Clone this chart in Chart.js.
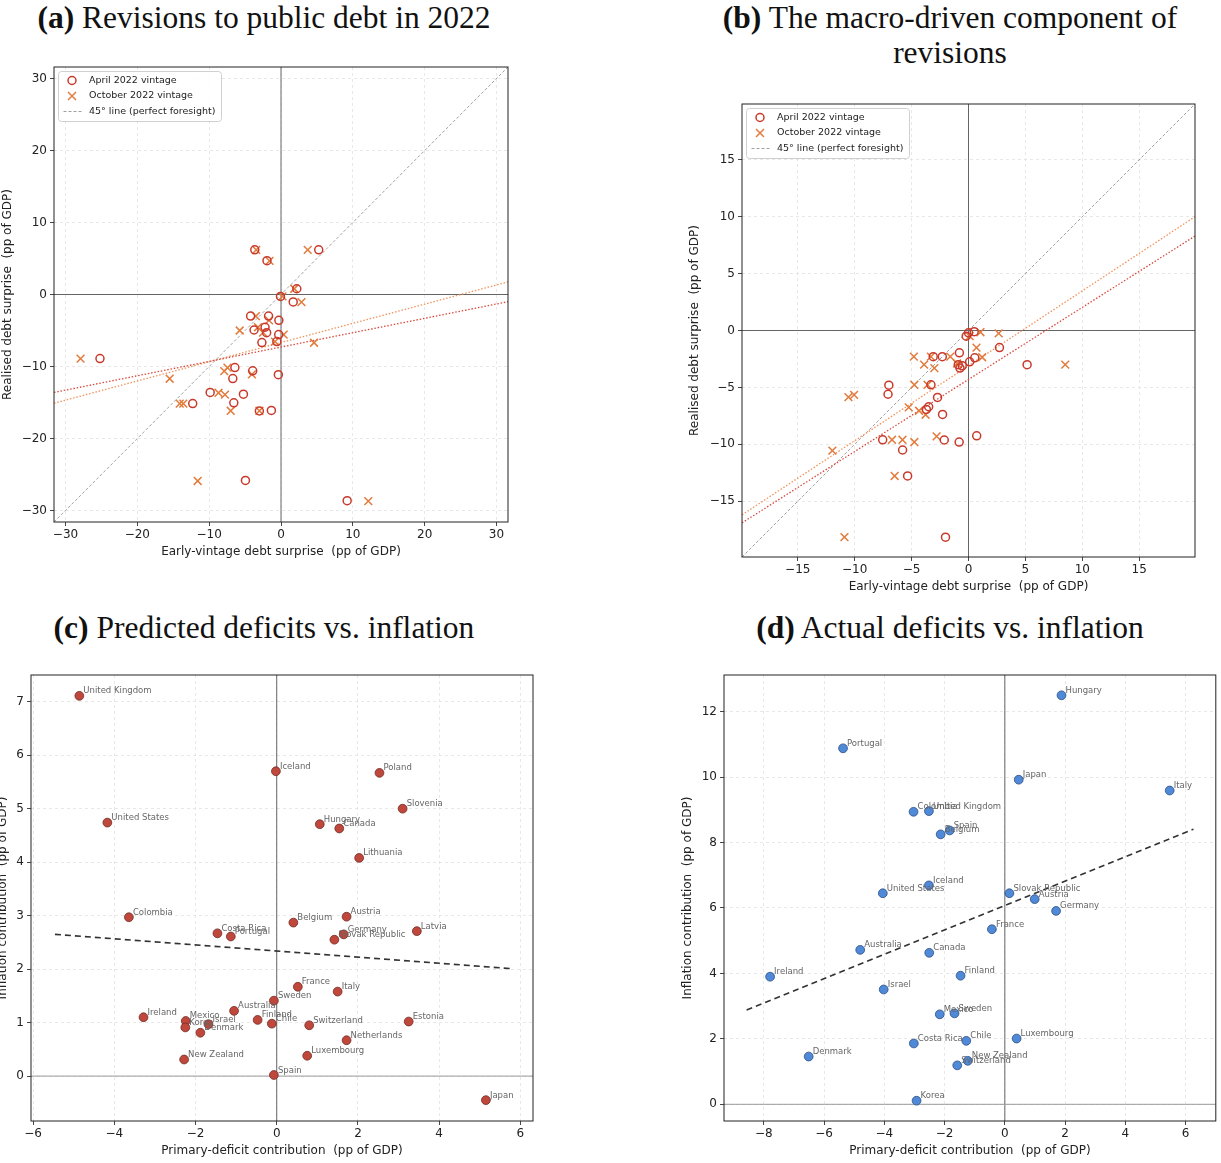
<!DOCTYPE html>
<html>
<head>
<meta charset="utf-8">
<script src="https://cdn.jsdelivr.net/npm/chart.js@4.4.1/dist/chart.umd.min.js"></script>
<style>
  body { margin: 0; width: 1221px; height: 1163px; background: #fff; position: relative; overflow: hidden; }
  .ttl { position: absolute; font-family: "Liberation Serif", serif; font-size: 31.5px; color: #111;
         text-align: center; line-height: 35px; white-space: nowrap; }
  canvas { position: absolute; }
</style>
</head>
<body>
<div class="ttl" style="left:0;width:528px;top:0"><b>(a)</b> Revisions to public debt in 2022</div>
<div class="ttl" style="left:690px;width:520px;top:0"><b>(b)</b> The macro-driven component of<br>revisions</div>
<div class="ttl" style="left:0;width:528px;top:610px"><b>(c)</b> Predicted deficits vs. inflation</div>
<div class="ttl" style="left:690px;width:520px;top:610px"><b>(d)</b> Actual deficits vs. inflation</div>

<canvas id="pa" width="515" height="499" style="left:0;top:60px"></canvas>
<canvas id="pb" width="515" height="497" style="left:687px;top:97px"></canvas>
<canvas id="pc" width="544" height="489" style="left:-5px;top:669px"></canvas>
<canvas id="pd" width="541" height="489" style="left:680px;top:669px"></canvas>

<script>
// ---- (a) debt revisions, pp of GDP ----
const aLim = 31.6;
const aTicks = [-30, -20, -10, 0, 10, 20, 30];
const aAprilX = [-25.2, -3.65, -1.95, 5.25, 2.2, -0.07, 1.7, -4.23, -1.73, -0.3, -3.75, -2.22, -2.0, -0.32,
                 -2.66, -0.58, -6.42, -3.94, -0.37, -6.71, -9.86, -5.23, -6.57, -12.29, -3.01, -1.34, -4.95, 9.21];
const aAprilY = [-8.9, 6.2, 4.7, 6.2, 0.8, -0.27, -1.03, -3.0, -3.0, -3.58, -4.93, -4.55, -5.3, -5.56,
                 -6.68, -6.54, -10.15, -10.6, -11.13, -11.68, -13.6, -13.85, -15.05, -15.15, -16.18, -16.1, -25.83, -28.64];
const aOctX = [-27.9, -3.45, -1.6, 3.72, 1.85, 0.2, 2.85, -3.5, -1.67, -5.75, -3.2, -2.5, 0.37, -0.83,
               4.6, -15.5, -7.9, -7.45, -4.05, -8.7, -7.8, -14.1, -13.6, -7.0, -3.0, -11.6, 12.15];
const aOctY = [-8.9, 6.2, 4.68, 6.2, 0.8, -0.27, -1.07, -3.0, -3.6, -5.0, -4.55, -5.3, -5.58, -6.55,
               -6.7, -11.7, -10.65, -10.15, -11.1, -13.65, -13.9, -15.15, -15.15, -16.15, -16.15, -25.9, -28.7];
const aFitX = [-31.6, 31.6];
const aFitAprilY = [-13.6, -1.0];
const aFitOctY = [-15.1, 1.75];

// ---- (b) macro-driven component ----
const bLim = 19.9;
const bTicks = [-15, -10, -5, 0, 5, 10, 15];
const bAprilX = [-0.2, 0.0, 0.5, 2.72, -0.8, -3.1, -2.3, 0.55, 0.1, -0.9, -0.75, -0.55, -7.0, -7.07,
                 -3.3, -2.72, -3.5, -3.7, -2.28, -7.54, -5.79, -2.13, -0.82, 0.72, -5.35, -2.02, 5.15];
const bAprilY = [-0.5, -0.2, -0.1, -1.5, -1.96, -2.3, -2.3, -2.4, -2.75, -3.0, -3.3, -3.1, -4.8, -5.6,
                 -4.77, -5.88, -6.7, -6.93, -7.37, -9.6, -10.5, -9.62, -9.8, -9.25, -12.78, -18.16, -3.0];
const bOctX = [1.05, 2.65, 0.1, 0.7, 1.2, -4.8, -3.3, -1.6, -3.9, -3.0, -1.0, -10.55, -10.05,
               -4.76, -3.6, -5.25, -4.35, -3.77, -6.72, -5.8, -4.76, -2.8, -11.96, -6.49, -10.9, 8.5];
const bOctY = [-0.15, -0.25, -0.5, -1.5, -2.35, -2.3, -2.3, -2.3, -3.0, -3.3, -2.9, -5.85, -5.65,
               -4.77, -4.77, -6.75, -7.05, -7.4, -9.6, -9.6, -9.8, -9.3, -10.56, -12.78, -18.16, -3.0];
const bFitX = [-19.9, 19.9];
const bFitAprilY = [-16.9, 8.3];
const bFitOctY = [-16.2, 10.0];

// ---- (c) predicted primary deficits vs inflation ----
const cCountries = ['United Kingdom', 'Iceland', 'United States', 'Colombia', 'Costa Rica', 'Portugal', 'Belgium',
  'Ireland', 'Mexico', 'Korea', 'Israel', 'Denmark', 'Australia', 'Finland', 'Chile', 'Sweden', 'New Zealand',
  'Spain', 'Poland', 'Slovenia', 'Hungary', 'Canada', 'Lithuania', 'Austria', 'Germany', 'Slovak Republic',
  'Latvia', 'France', 'Italy', 'Switzerland', 'Estonia', 'Netherlands', 'Luxembourg', 'Japan'];
const cDeficit = [-4.86, -0.02, -4.17, -3.64, -1.46, -1.13, 0.41, -3.28, -2.24, -2.25, -1.68, -1.88, -1.05, -0.47,
  -0.12, -0.07, -2.28, -0.07, 2.53, 3.10, 1.06, 1.54, 2.03, 1.72, 1.65, 1.42, 3.45, 0.52, 1.50, 0.80, 3.25, 1.72,
  0.75, 5.15];
const cInflation = [7.11, 5.70, 4.74, 2.97, 2.67, 2.61, 2.87, 1.10, 1.03, 0.91, 0.97, 0.81, 1.22, 1.05, 0.98,
  1.41, 0.31, 0.02, 5.67, 5.00, 4.71, 4.63, 4.08, 2.98, 2.65, 2.55, 2.71, 1.67, 1.58, 0.95, 1.02, 0.67, 0.38,
  -0.45];
const cFitX = [-5.46, 5.74];
const cFitY = [2.65, 2.01];
const cXTicks = [-6, -4, -2, 0, 2, 4, 6];
const cYTicks = [0, 1, 2, 3, 4, 5, 6, 7];

// ---- (d) actual primary deficits vs inflation ----
const dCountries = ['Portugal', 'Colombia', 'United Kingdom', 'Belgium', 'Spain', 'Iceland', 'United States',
  'Australia', 'Canada', 'Ireland', 'Israel', 'Mexico', 'Sweden', 'Costa Rica', 'Denmark', 'Korea', 'Switzerland',
  'New Zealand', 'Chile', 'Luxembourg', 'Finland', 'France', 'Slovak Republic', 'Austria', 'Germany', 'Japan',
  'Italy', 'Hungary'];
const dDeficit = [-5.37, -3.03, -2.52, -2.13, -1.83, -2.52, -4.05, -4.80, -2.51, -7.79, -4.02, -2.16, -1.67,
  -3.02, -6.51, -2.93, -1.58, -1.23, -1.28, 0.39, -1.47, -0.43, 0.15, 0.99, 1.70, 0.46, 5.47, 1.88];
const dInflation = [10.88, 8.94, 8.96, 8.25, 8.37, 6.69, 6.45, 4.72, 4.63, 3.90, 3.51, 2.75, 2.78, 1.86, 1.46,
  0.11, 1.19, 1.33, 1.94, 2.01, 3.93, 5.35, 6.45, 6.27, 5.91, 9.92, 9.59, 12.50];
const dFitX = [-8.57, 6.26];
const dFitY = [2.88, 8.41];
const dXTicks = [-8, -6, -4, -2, 0, 2, 4, 6];
const dYTicks = [0, 2, 4, 6, 8, 10, 12];

const FONT = '"DejaVu Sans", sans-serif';
const RED = '#c8392b';
const ORANGE = '#e27b3c';
const pts = (xs, ys) => xs.map((x, i) => ({ x, y: ys[i] }));
const fmt = v => (v < 0 ? '\u2212' + Math.abs(v) : String(v));

function axis(min, max, ticks, title, fixed, horizontal) {
  return {
    type: 'linear', min, max,
    afterBuildTicks: s => { s.ticks = ticks.map(v => ({ value: v })); },
    // fixed axis thickness and no label overhang, so the plot box lands where the layout padding says
    afterFit: s => {
      if (horizontal) s.height = fixed; else s.width = fixed;
      s.paddingTop = s.paddingBottom = s.paddingLeft = s.paddingRight = 0;
    },
    ticks: { font: { family: FONT, size: 12 }, color: '#222', padding: horizontal ? 2 : 3,
             autoSkip: false, maxRotation: 0, callback: v => fmt(v) },
    grid: { color: '#e2e2e2', lineWidth: 0.8, tickLength: 4, tickColor: '#333', tickWidth: 0.9, tickBorderDash: [] },
    border: { display: false, dash: [3, 3] },
    title: { display: true, text: title, color: '#222', font: { family: FONT, size: 12 },
             padding: horizontal ? { top: 0, bottom: 0 } : { top: 1, bottom: 0 } }
  };
}

function line(xs, ys, color, width, dash, order) {
  return { type: 'scatter', data: pts(xs, ys), showLine: true, pointRadius: 0, fill: false,
           borderColor: color, borderWidth: width, borderDash: dash, order };
}

// black box round the plotting area
const frame = {
  id: 'frame',
  afterDatasetsDraw(chart) {
    const { ctx, chartArea: a } = chart;
    ctx.save();
    ctx.strokeStyle = '#222';
    ctx.lineWidth = 1;
    ctx.strokeRect(a.left, a.top, a.right - a.left, a.bottom - a.top);
    ctx.restore();
  }
};

// legend box in the upper-left corner of the axes
const boxLegend = {
  id: 'boxLegend',
  afterDraw(chart, args, opts) {
    if (!opts.items) return;
    const { ctx, chartArea: a } = chart;
    const x0 = a.left + 4.5, y0 = a.top + 4.5, w = 163, h = 50;
    ctx.save();
    ctx.beginPath();
    ctx.roundRect(x0, y0, w, h, 3);
    ctx.fillStyle = 'rgba(255,255,255,0.85)';
    ctx.fill();
    ctx.strokeStyle = '#d0d0d0';
    ctx.lineWidth = 1;
    ctx.stroke();
    ctx.font = '9.5px ' + FONT;
    ctx.textBaseline = 'middle';
    opts.items.forEach((it, i) => {
      const y = y0 + 9 + i * 15.5, mx = x0 + 13.5;
      ctx.strokeStyle = it.color;
      ctx.beginPath();
      if (it.kind === 'circle') {
        ctx.lineWidth = 1.5;
        ctx.arc(mx, y, 4, 0, Math.PI * 2);
      } else if (it.kind === 'cross') {
        ctx.lineWidth = 1.5;
        ctx.moveTo(mx - 4, y - 4); ctx.lineTo(mx + 4, y + 4);
        ctx.moveTo(mx - 4, y + 4); ctx.lineTo(mx + 4, y - 4);
      } else {
        ctx.lineWidth = 0.8;
        ctx.setLineDash([3, 2]);
        ctx.moveTo(x0 + 5, y); ctx.lineTo(x0 + 23.5, y);
      }
      ctx.stroke();
      ctx.setLineDash([]);
      ctx.fillStyle = '#222';
      ctx.fillText(it.label, x0 + 30.5, y);
    });
    ctx.restore();
  }
};

// country names next to each point of the first dataset
const pointNames = {
  id: 'pointNames',
  afterDatasetsDraw(chart, args, opts) {
    if (!opts.names) return;
    const { ctx } = chart;
    const meta = chart.getDatasetMeta(0);
    ctx.save();
    ctx.font = '8.5px ' + FONT;
    ctx.fillStyle = '#666';
    ctx.textBaseline = 'alphabetic';
    meta.data.forEach((el, i) => ctx.fillText(opts.names[i], el.x + 4, el.y - 2.5));
    ctx.restore();
  }
};

function makeChart(id, datasets, scales, padding, plugOpts) {
  new Chart(document.getElementById(id), {
    type: 'scatter',
    data: { datasets },
    options: {
      responsive: false, animation: false, events: [],
      layout: { padding },
      scales,
      plugins: Object.assign({ legend: { display: false }, tooltip: { enabled: false } }, plugOpts)
    },
    plugins: [frame, boxLegend, pointNames]
  });
}

const vintageLegend = {
  items: [
    { kind: 'circle', color: RED, label: 'April 2022 vintage' },
    { kind: 'cross', color: ORANGE, label: 'October 2022 vintage' },
    { kind: 'line', color: '#888', label: '45\u00b0 line (perfect foresight)' }
  ]
};

function vintageSets(lim, aprX, aprY, octX, octY, fitX, fitAprY, fitOctY) {
  return [
    { data: pts(aprX, aprY), pointStyle: 'circle', pointRadius: 4, pointBorderWidth: 1.5,
      pointBorderColor: RED, pointBackgroundColor: 'rgba(0,0,0,0)', order: 0 },
    { data: pts(octX, octY), pointStyle: 'crossRot', pointRadius: 5.5, pointBorderWidth: 1.5,
      pointBorderColor: ORANGE, pointBackgroundColor: ORANGE, order: 0 },
    line(fitX, fitAprY, '#d8493b', 1.3, [1.5, 1.8], 1),
    line(fitX, fitOctY, '#f0925a', 1.3, [1.5, 1.8], 1),
    line([-lim, lim], [-lim, lim], '#8a8a8a', 0.8, [3, 2], 2),
    line([-lim, lim], [0, 0], '#555', 0.9, [], 3),
    line([0, 0], [-lim, lim], '#555', 0.9, [], 3)
  ];
}

const xTitleA = 'Early-vintage debt surprise  (pp of GDP)';
const yTitleA = 'Realised debt surprise  (pp of GDP)';

makeChart('pa',
  vintageSets(aLim, aAprilX, aAprilY, aOctX, aOctY, aFitX, aFitAprilY, aFitOctY),
  { x: axis(-aLim, aLim, aTicks, xTitleA, 37, true), y: axis(-aLim, aLim, aTicks, yTitleA, 54, false) },
  { top: 6, right: 6, left: 0, bottom: 0 },
  { boxLegend: vintageLegend });

makeChart('pb',
  vintageSets(bLim, bAprilX, bAprilY, bOctX, bOctY, bFitX, bFitAprilY, bFitOctY),
  { x: axis(-bLim, bLim, bTicks, xTitleA, 37, true), y: axis(-bLim, bLim, bTicks, yTitleA, 55, false) },
  { top: 6, right: 6, left: 0, bottom: 0 },
  { boxLegend: vintageLegend });

function countrySets(xs, ys, fitX, fitY, fill, edge, xr, yr) {
  return [
    { data: pts(xs, ys), pointStyle: 'circle', pointRadius: 4.4, pointBorderWidth: 0.8,
      pointBorderColor: edge, pointBackgroundColor: fill, order: 0 },
    line(fitX, fitY, '#333', 1.6, [6, 4], 1),
    line(xr, [0, 0], '#9a9a9a', 1, [], 3),
    line([0, 0], yr, '#555', 0.9, [], 3)
  ];
}

const xTitleC = 'Primary-deficit contribution  (pp of GDP)';
const yTitleC = 'Inflation contribution  (pp of GDP)';

makeChart('pc',
  countrySets(cDeficit, cInflation, cFitX, cFitY, '#c0473b', '#6e2c24', [-6.05, 6.31], [-0.84, 7.5]),
  { x: axis(-6.05, 6.31, cXTicks, xTitleC, 37, true), y: axis(-0.84, 7.5, cYTicks, yTitleC, 36, false) },
  { top: 6, right: 6, left: 0, bottom: 0 },
  { pointNames: { names: cCountries } });

makeChart('pd',
  countrySets(dDeficit, dInflation, dFitX, dFitY, '#4f89d8', '#2d4f82', [-9.32, 7.0], [-0.51, 13.12]),
  { x: axis(-9.32, 7.0, dXTicks, xTitleC, 37, true), y: axis(-0.51, 13.12, dYTicks, yTitleC, 44, false) },
  { top: 6, right: 1, left: 0, bottom: 0 },
  { pointNames: { names: dCountries } });
</script>
</body>
</html>
